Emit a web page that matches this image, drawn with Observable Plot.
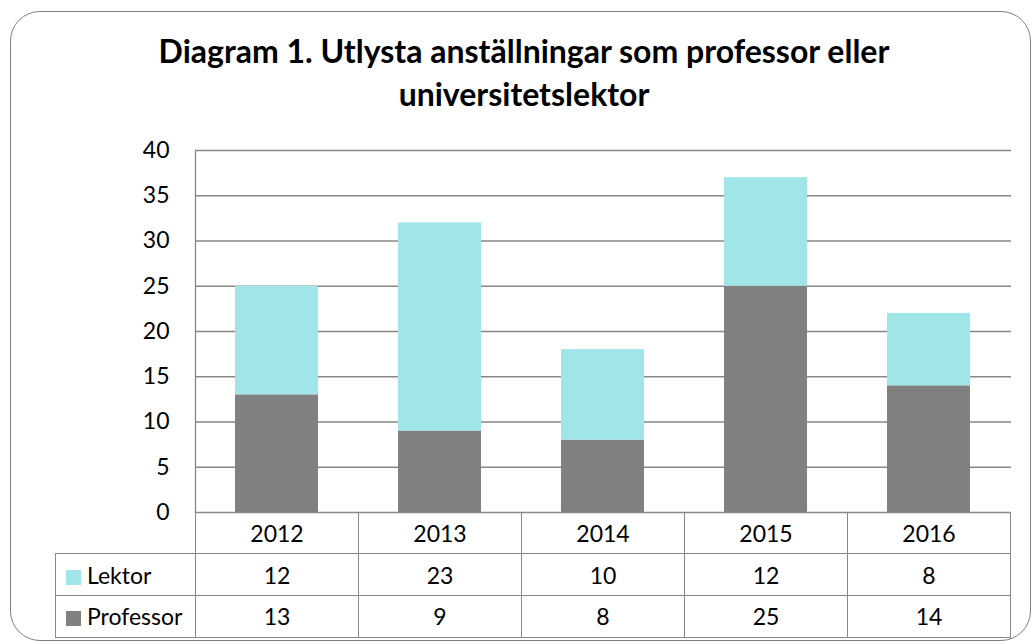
<!DOCTYPE html>
<html>
<head>
<meta charset="utf-8">
<script src="https://cdn.jsdelivr.net/npm/d3@7"></script>
<script src="https://cdn.jsdelivr.net/npm/@observablehq/plot@0.6"></script>
<style>
  html, body { margin: 0; padding: 0; background: #fff; }
  #wrap { position: relative; width: 1033px; height: 642px; overflow: hidden; font-family: Lato, "Open Sans", sans-serif; }
  #border { position: absolute; left: 10px; top: 11px; width: 1021px; height: 630px; border: 1.4px solid #7f7f7f; border-radius: 30px; box-sizing: border-box; }
  #title { position: absolute; left: 0; width: 1048px; top: 29px; text-align: center; font-weight: 700; font-size: 32px; line-height: 43px; color: #000; }
  #chart { position: absolute; left: 0; top: 0; }
  #chart svg { overflow: visible; }
  #tbl { position: absolute; border-collapse: collapse; font-size: 23px; color: #000; table-layout: fixed; }
  #tbl td { padding: 0; text-align: center; border: 1.3px solid #888; box-sizing: border-box; white-space: nowrap; }
  #tbl td.blank { border: none; }
  #tbl td.lab { text-align: left; padding-left: 10px; }
  .sw { display: inline-block; width: 15px; height: 15px; margin-right: 6px; vertical-align: -1px; }
</style>
</head>
<body>
<div id="wrap">
  <div id="border"></div>
  <div id="title">Diagram 1. Utlysta anställningar som professor eller<br>universitetslektor</div>
  <div id="chart"></div>
  <table id="tbl"></table>
</div>
<script>
const years = ["2012", "2013", "2014", "2015", "2016"];
const series = ["Lektor", "Professor"];
const lektor = [12, 23, 10, 12, 8];
const professor = [13, 9, 8, 25, 14];
const colors = ["#a0e6e8", "#808080"];
const yTicks = [0, 5, 10, 15, 20, 25, 30, 35, 40];

const rows = [];
years.forEach((y, i) => rows.push({ year: y, series: "Professor", value: professor[i] }));
years.forEach((y, i) => rows.push({ year: y, series: "Lektor", value: lektor[i] }));

const chart = Plot.plot({
  width: 1033,
  height: 642,
  marginLeft: 195,
  marginRight: 22,
  marginTop: 150,
  marginBottom: 130,
  style: { fontFamily: "Lato, 'Open Sans', sans-serif", fontSize: "23px", color: "#000", background: "transparent" },
  x: { domain: years, paddingInner: 0.49, paddingOuter: 0.245, axis: null },
  y: { domain: [0, 40], ticks: yTicks, tickSize: 0, tickPadding: 26, label: null, tickFormat: d => String(d) },
  color: { domain: series, range: colors },
  marks: [
    Plot.ruleY(yTicks, { stroke: "#878787", strokeWidth: 1.3, strokeOpacity: 1 }),
    Plot.barY(rows, Plot.stackY({ x: "year", y: "value", fill: "series", z: "series", order: ["Professor", "Lektor"] })),
    Plot.frame({ anchor: "left", stroke: "#878787", strokeWidth: 1.3 })
  ]
});
document.getElementById("chart").appendChild(chart);

// Data table aligned to the x band scale
const xs = chart.scale("x");
const step = xs.step !== undefined ? xs.step : (xs.bandwidth / (1 - 0.49));
const left0 = xs.apply(years[0]) + xs.bandwidth / 2 - step / 2;
const labW = left0 - 55;
const tbl = document.getElementById("tbl");
tbl.style.left = "55px";
tbl.style.top = "511.5px";
tbl.style.width = (labW + step * years.length) + "px";

const colgroup = document.createElement("colgroup");
const c0 = document.createElement("col"); c0.style.width = labW + "px"; colgroup.appendChild(c0);
years.forEach(() => { const c = document.createElement("col"); c.style.width = step + "px"; colgroup.appendChild(c); });
tbl.appendChild(colgroup);

function addRow(h, label, color, values) {
  const tr = document.createElement("tr");
  tr.style.height = h + "px";
  const td0 = document.createElement("td");
  if (label === null) { td0.className = "blank"; }
  else {
    td0.className = "lab";
    const sw = document.createElement("span"); sw.className = "sw"; sw.style.background = color;
    td0.appendChild(sw);
    td0.appendChild(document.createTextNode(label));
  }
  tr.appendChild(td0);
  values.forEach(v => { const td = document.createElement("td"); td.textContent = String(v); tr.appendChild(td); });
  tbl.appendChild(tr);
}
addRow(41.5, null, null, years);
addRow(42, series[0], colors[0], lektor);
addRow(41.5, series[1], colors[1], professor);
</script>
</body>
</html>
